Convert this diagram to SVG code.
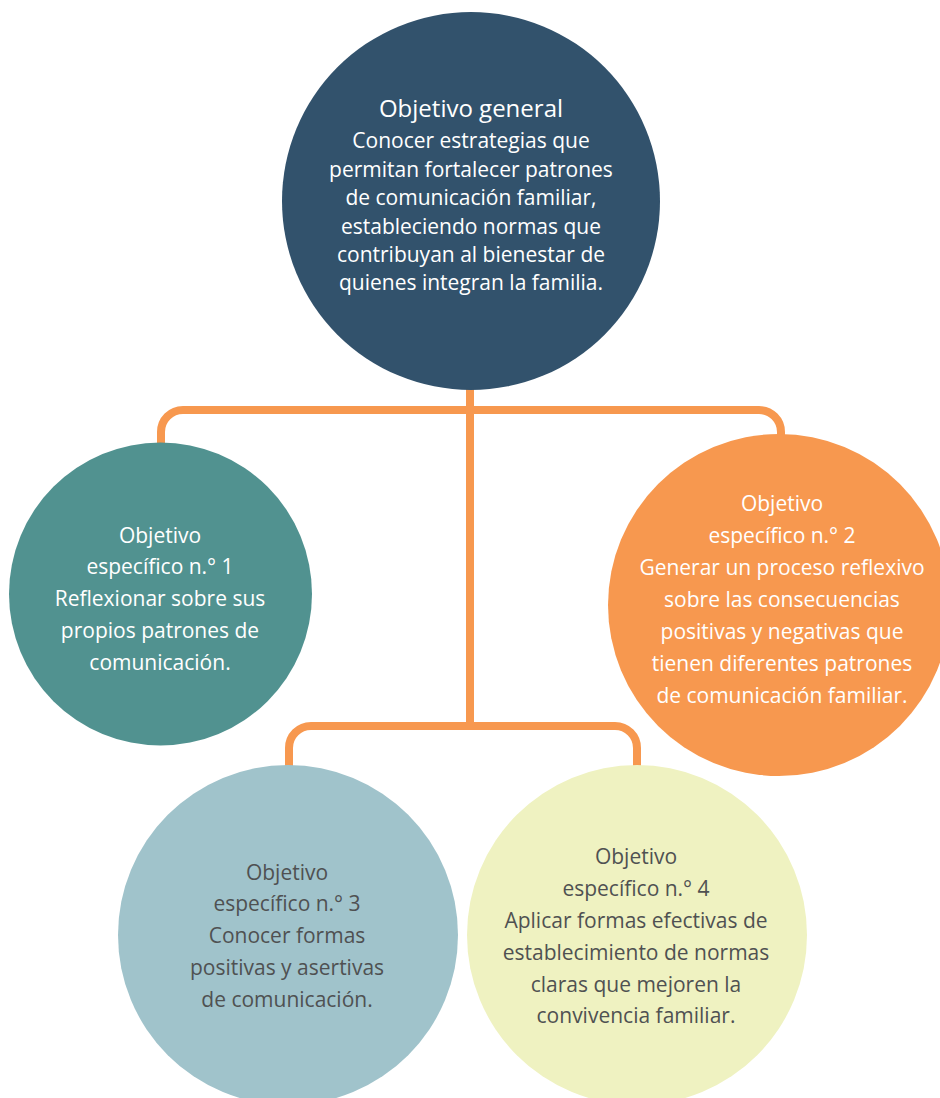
<svg xmlns="http://www.w3.org/2000/svg" width="940" height="1098" viewBox="0 0 940 1098">
<style>
.conn{fill:none;stroke:#F7984F;stroke-width:8;stroke-linejoin:round}
text{font-family:"Open Sans","Noto Sans","Liberation Sans",sans-serif;font-size:21px;text-anchor:middle}
.w{fill:#ffffff}
.d{fill:#4F5152}
.title{font-size:24px}
</style>
<rect width="940" height="1098" fill="#ffffff"/>
<g id="connectors">
<path class="conn" d="M470,380 V726"/>
<path class="conn" d="M161,448 V432 A22,22 0 0 1 183,410 H759 A22,22 0 0 1 781,432 V448"/>
<path class="conn" d="M289,770 V748 A22,22 0 0 1 311,726 H615 A22,22 0 0 1 637,748 V770"/>
</g>
<g id="general">
<circle cx="471" cy="201" r="189" fill="#32526C"/>
<text class="w title" x="471" y="117">Objetivo general</text>
<text class="w" x="471" y="148">Conocer estrategias que</text>
<text class="w" x="471" y="176.5">permitan fortalecer patrones</text>
<text class="w" x="471" y="205">de comunicación familiar,</text>
<text class="w" x="471" y="233.5">estableciendo normas que</text>
<text class="w" x="471" y="262">contribuyan al bienestar de</text>
<text class="w" x="471" y="290">quienes integran la familia.</text>
</g>
<g id="especifico1">
<circle cx="160.5" cy="594" r="151.5" fill="#519290"/>
<text class="w" x="160" y="543">Objetivo</text>
<text class="w" x="160" y="574">específico n.° 1</text>
<text class="w" x="160" y="606">Reflexionar sobre sus</text>
<text class="w" x="160" y="638">propios patrones de</text>
<text class="w" x="160" y="670">comunicación.</text>
</g>
<g id="especifico2">
<circle cx="779" cy="605" r="171" fill="#F7984F"/>
<text class="w" x="782" y="511">Objetivo</text>
<text class="w" x="782" y="543">específico n.° 2</text>
<text class="w" x="782" y="575">Generar un proceso reflexivo</text>
<text class="w" x="782" y="607">sobre las consecuencias</text>
<text class="w" x="782" y="639">positivas y negativas que</text>
<text class="w" x="782" y="671">tienen diferentes patrones</text>
<text class="w" x="782" y="703">de comunicación familiar.</text>
</g>
<g id="especifico3">
<circle cx="288" cy="935" r="170" fill="#A0C3CB"/>
<text class="d" x="287" y="880">Objetivo</text>
<text class="d" x="287" y="911">específico n.° 3</text>
<text class="d" x="287" y="943">Conocer formas</text>
<text class="d" x="287" y="975">positivas y asertivas</text>
<text class="d" x="287" y="1007">de comunicación.</text>
</g>
<g id="especifico4">
<circle cx="637" cy="935" r="170" fill="#EFF2C1"/>
<text class="d" x="636" y="864">Objetivo</text>
<text class="d" x="636" y="896">específico n.° 4</text>
<text class="d" x="636" y="928">Aplicar formas efectivas de</text>
<text class="d" x="636" y="960">establecimiento de normas</text>
<text class="d" x="636" y="992">claras que mejoren la</text>
<text class="d" x="636" y="1023">convivencia familiar.</text>
</g>
</svg>
